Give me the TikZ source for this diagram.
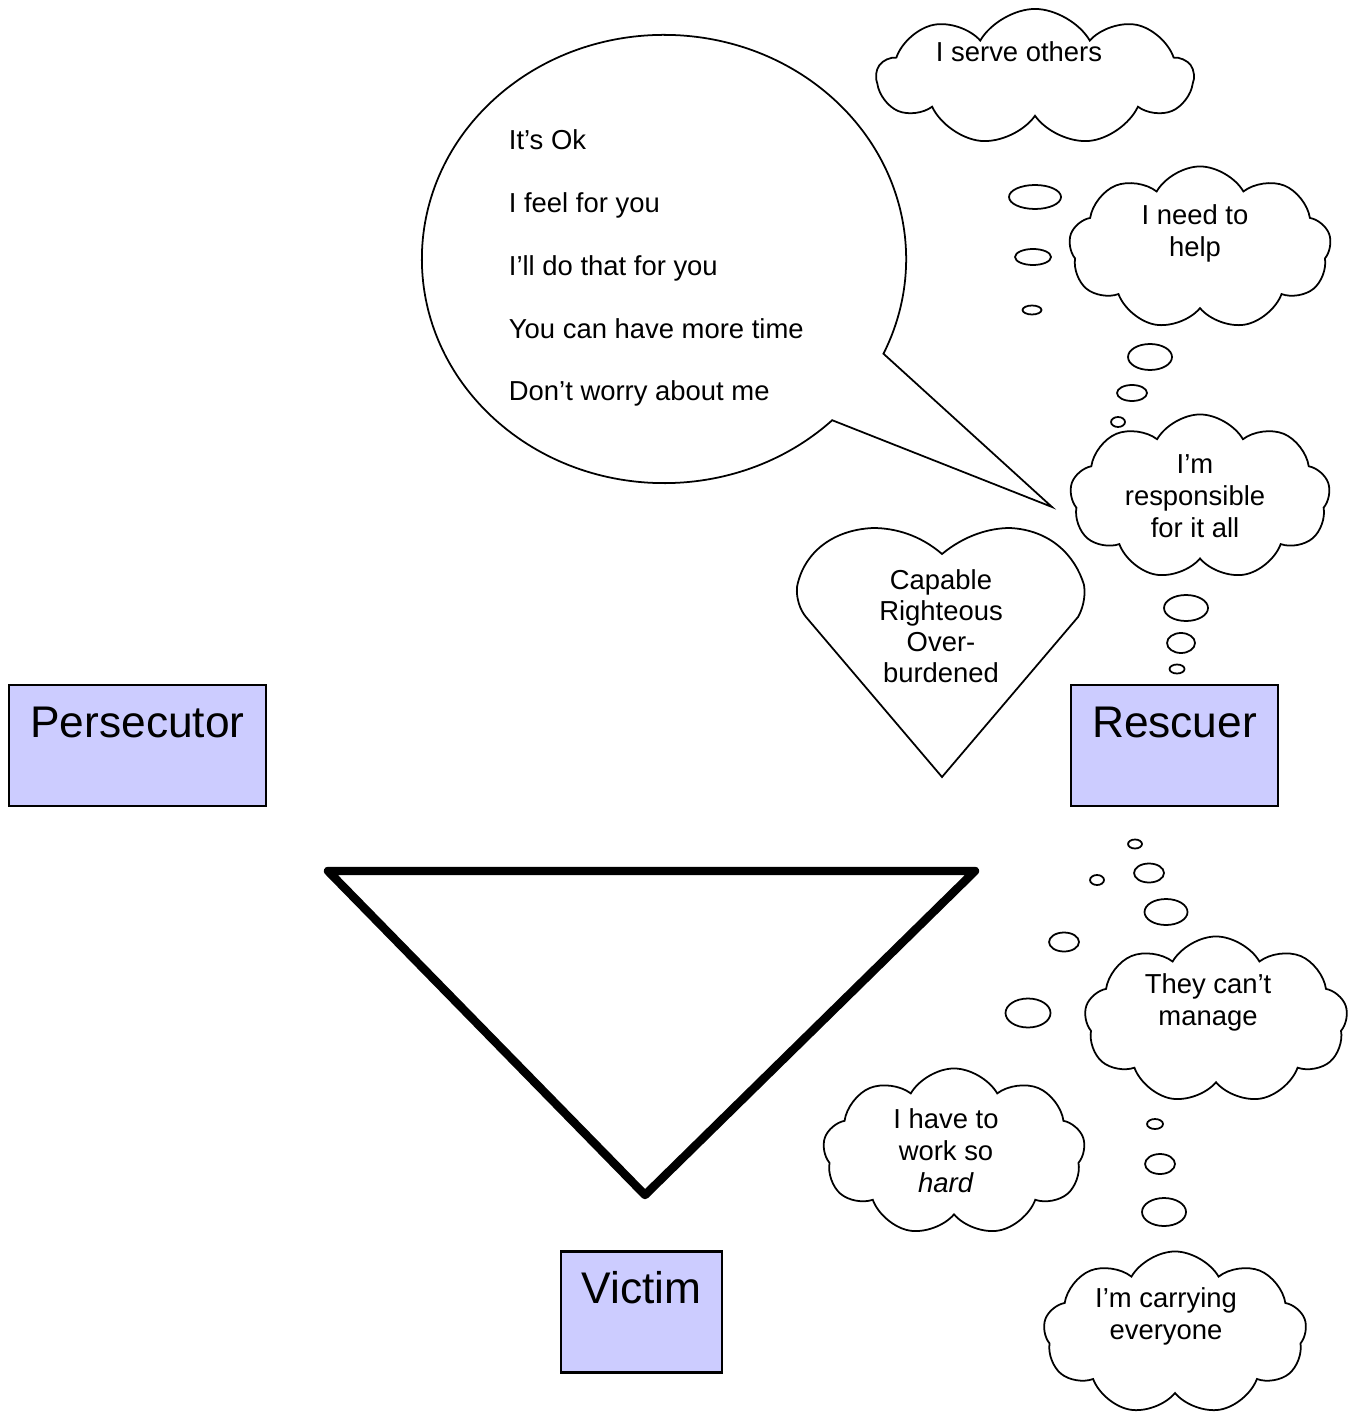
\documentclass[tikz,border=0pt]{standalone}
\usepackage{fontspec}
\setmainfont{Liberation Sans}
\usetikzlibrary{shapes.symbols}
\definecolor{rolefill}{RGB}{204,204,255}

\tikzset{
  role/.style={draw, fill=rolefill, line width=0.6pt, minimum width=#1, minimum height=1.21cm,
    inner sep=0.04cm, text height=0.48cm, text depth=0.65cm, font=\fontsize{12.6}{14}\selectfont},
  cloudy/.style={cloud, draw, cloud puffs=9, cloud puff arc=120, cloud ignores aspect, inner sep=0pt},
  thought/.style={align=center, inner sep=0pt, font=\fontsize{7.8}{9.1}\selectfont},
  puff/.style={draw}
}

\begin{document}
\begin{tikzpicture}[x=0.01cm, y=-0.01cm, line width=0.5pt]
  \useasboundingbox (0,0) rectangle (1357,1416);
  % roles
  \node[role=2.57cm] (persecutor) at (137.5,745.5) {Persecutor};
  \node[role=2.07cm] (rescuer) at (1174.5,745.5) {Rescuer};
  \node[role=1.61cm] (victim) at (641.5,1312) {Victim};
  % triangle
  \draw[line width=2.4pt, line join=round] (328,871) -- (975,871) -- (645,1195) -- cycle;
  % speech bubble
  \coordinate (sb) at (664,259);
  \coordinate (sbtip) at (1052,507);
  \draw ([shift={(-46:2.42cm and 2.24cm)}]sb) arc[start angle=-46, end angle=-385, x radius=2.42cm, y radius=2.24cm] -- (sbtip) -- cycle;
  \node[thought, align=left, anchor=west, font=\fontsize{7.8}{17.9}\selectfont] (saying) at (508,268)
    {It’s Ok\\I feel for you\\I’ll do that for you\\You can have more time\\Don’t worry about me};
  % heart
  \draw (942,554) .. controls (965,535) and (990,528) .. (1010,528)
    .. controls (1050,530) and (1075,555) .. (1084,585)
    .. controls (1086,598) and (1082,610) .. (1078,617) -- (942,777) -- (806,617)
    .. controls (800,610) and (796,598) .. (797,587)
    .. controls (803,555) and (830,530) .. (873,528)
    .. controls (895,528) and (920,535) .. (942,554) -- cycle;
  \node[thought, font=\fontsize{7.8}{8.8}\selectfont] (feeling) at (941,626) {Capable\\Righteous\\Over-\\burdened};
  % clouds
  \node[cloudy, minimum width=3.16cm, minimum height=1.36cm] (serve) at (1035,77) {};
  \node[thought] (servetxt) at (1019,52) {I serve others};
  \node[cloudy, minimum width=2.62cm, minimum height=1.63cm] (needhelp) at (1200,248) {};
  \node[thought] (needhelptxt) at (1195,233) {I need to\\help};
  \node[cloudy, minimum width=2.60cm, minimum height=1.65cm] (responsible) at (1200,497) {};
  \node[thought] (responsibletxt) at (1195,496) {I’m\\responsible\\for it all};
  \node[cloudy, minimum width=2.63cm, minimum height=1.67cm] (cantmanage) at (1216,1020) {};
  \node[thought] (cantmanagetxt) at (1208,1002) {They can’t\\manage};
  \node[cloudy, minimum width=2.62cm, minimum height=1.67cm] (workhard) at (954,1152) {};
  \node[thought] (workhardtxt) at (946,1151) {I have to\\work so\\\textit{hard}};
  \node[cloudy, minimum width=2.63cm, minimum height=1.63cm] (carrying) at (1175,1333) {};
  \node[thought] (carryingtxt) at (1166,1316) {I’m carrying\\everyone};
  % thought puffs
  \draw[puff] (1035,197) ellipse[x radius=26, y radius=12];
  \draw[puff] (1033,257) ellipse[x radius=18, y radius=8];
  \draw[puff] (1032,310) ellipse[x radius=9.5, y radius=4.5];
  \draw[puff] (1150,357) ellipse[x radius=22, y radius=13];
  \draw[puff] (1132,393) ellipse[x radius=15, y radius=8];
  \draw[puff] (1118,422) ellipse[x radius=7, y radius=5];
  \draw[puff] (1186,608) ellipse[x radius=22, y radius=13];
  \draw[puff] (1181,643) ellipse[x radius=14, y radius=10];
  \draw[puff] (1177,669) ellipse[x radius=7.5, y radius=4.5];
  \draw[puff] (1135,844) ellipse[x radius=7, y radius=4.5];
  \draw[puff] (1149,873) ellipse[x radius=15, y radius=9.5];
  \draw[puff] (1097,880) ellipse[x radius=7, y radius=5];
  \draw[puff] (1166,912) ellipse[x radius=21.5, y radius=13];
  \draw[puff] (1064,942) ellipse[x radius=15, y radius=9.5];
  \draw[puff] (1028,1013) ellipse[x radius=22.5, y radius=14.5];
  \draw[puff] (1155,1124) ellipse[x radius=8, y radius=5];
  \draw[puff] (1160,1164) ellipse[x radius=15, y radius=10];
  \draw[puff] (1164,1212) ellipse[x radius=22, y radius=14];
\end{tikzpicture}
\end{document}
